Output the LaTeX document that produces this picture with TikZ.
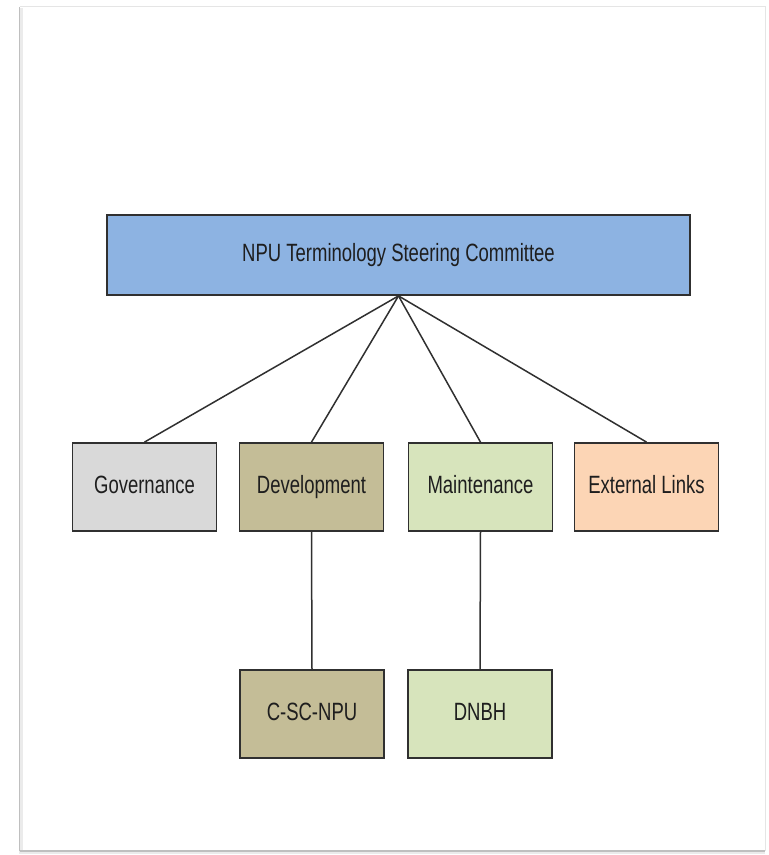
\documentclass[tikz,border=0pt]{standalone}
\usepackage{fontspec}
\setmainfont{Liberation Sans}[FakeStretch=0.74]
\definecolor{topblue}{HTML}{8DB3E2}
\definecolor{govgray}{HTML}{D9D9D9}
\definecolor{devtan}{HTML}{C4BD97}
\definecolor{maingreen}{HTML}{D7E4BC}
\definecolor{extpeach}{HTML}{FCD5B5}
\definecolor{txt}{HTML}{1E1E1E}
\definecolor{edge}{HTML}{303030}
\begin{document}
\begin{tikzpicture}[x=1pt,y=-1pt,
  orgbox/.style={draw=edge,line width=1.8pt,rectangle,inner sep=0pt,
    minimum width=144pt,minimum height=88pt,text=txt,
    text height=18pt,text depth=5pt,
    font=\fontsize{25}{30}\selectfont},
  link/.style={draw=edge,line width=1.5pt}]
\useasboundingbox (0,0) rectangle (769,855);
\fill[white] (0,0) rectangle (769,855);
% frame with soft shadow
\draw[black!8,line width=4pt] (21,8) -- (21,852) -- (765,852);
\draw[black!25,line width=1.5pt] (19.5,7) -- (19.5,851);
\draw[black!25,line width=1.5pt] (19.5,851) -- (765,851);
\draw[black!10,line width=1pt] (19.5,6.5) -- (765,6.5) -- (765,851);
% nodes
\node[orgbox,fill=topblue,minimum width=583pt,minimum height=80pt] (top) at (398.5,255) {NPU Terminology Steering Committee};
\node[orgbox,fill=govgray] (gov) at (144.5,487) {Governance};
\node[orgbox,fill=devtan] (dev) at (311.5,487) {Development};
\node[orgbox,fill=maingreen] (mnt) at (480.5,487) {Maintenance};
\node[orgbox,fill=extpeach] (ext) at (646.5,487) {External Links};
\node[orgbox,fill=devtan] (csc) at (312,714) {C-SC-NPU};
\node[orgbox,fill=maingreen] (dnbh) at (480,714) {DNBH};
% connectors
\draw[link] (top.south) -- (gov.north);
\draw[link] (top.south) -- (dev.north);
\draw[link] (top.south) -- (mnt.north);
\draw[link] (top.south) -- (ext.north);
\draw[link] (dev.south) -- (csc.north);
\draw[link] (mnt.south) -- (dnbh.north);
\end{tikzpicture}
\end{document}
